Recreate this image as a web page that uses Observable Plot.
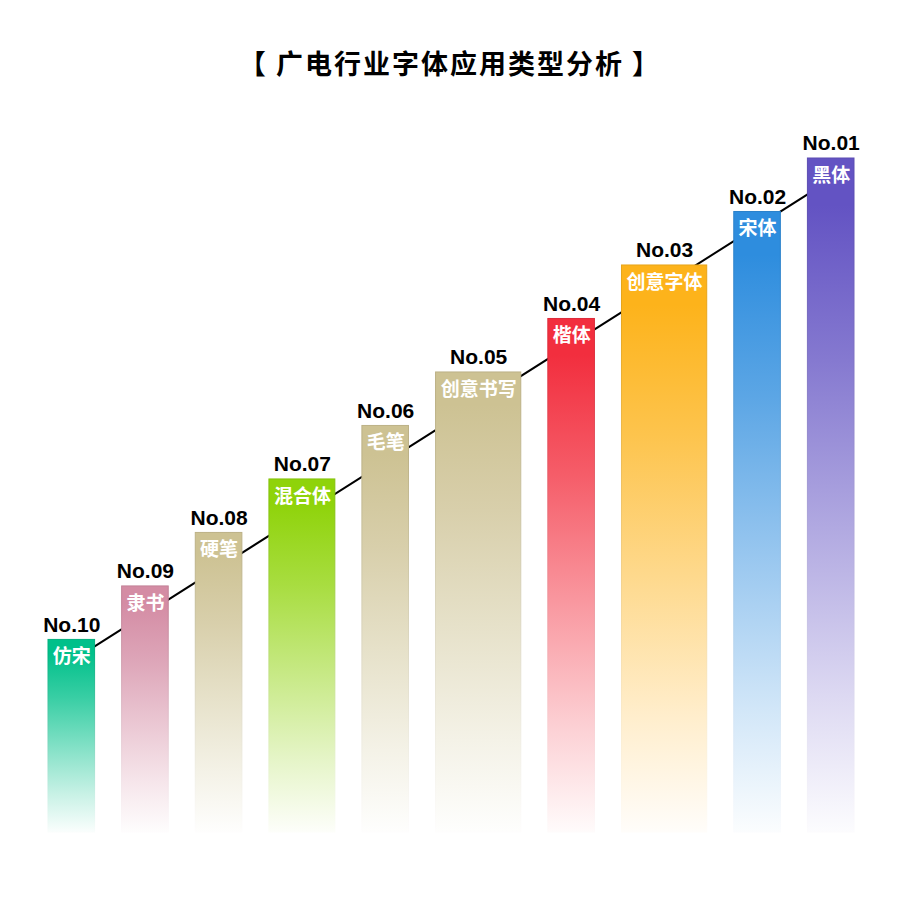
<!DOCTYPE html>
<html>
<head>
<meta charset="utf-8">
<script src="https://cdn.jsdelivr.net/npm/d3@7"></script>
<script src="https://cdn.jsdelivr.net/npm/@observablehq/plot@0.6"></script>
<style>
  html, body { margin: 0; padding: 0; background: #fff; }
  #title {
    box-sizing: border-box; height: 100px; padding-top: 49px;
    text-align: center; font-family: "Noto Sans CJK SC", sans-serif;
    font-weight: 700; font-size: 27px; line-height: 27px; letter-spacing: 2px; color: #000;
  }
  #chart { width: 900px; height: 800px; }
</style>
</head>
<body>
<div id="title">【 广电行业字体应用类型分析 】</div>
<div id="chart"></div>
<script>
// ---- data (left to right) ----
const ranks  = ["No.10", "No.09", "No.08", "No.07", "No.06", "No.05", "No.04", "No.03", "No.02", "No.01"];
const names  = ["仿宋", "隶书", "硬笔", "混合体", "毛笔", "创意书写", "楷体", "创意字体", "宋体", "黑体"];
const values = [36, 46, 56, 66, 76, 86, 96, 106, 116, 126];
const colors = ["#00C08A", "#D48CA4", "#CDC293", "#8FD30A", "#CDC293", "#CDC293", "#F22E3E", "#FDB31B", "#2E8DDE", "#6353C3"];

// bar width follows the length of its label
const charW = 19.5, pad = 8, gap = 27.3;
let cursor = 0;
const data = names.map((name, i) => {
  const w = name.length * charW + pad;
  const d = {rank: ranks[i], name, value: values[i], color: colors[i], x1: cursor, x2: cursor + w,
             grad: `url(#bargrad${i})`, sgrad: `url(#bargradS${i})`};
  d.xc = (d.x1 + d.x2) / 2;
  cursor += w + gap;
  return d;
});
const total = cursor - gap;
const lineData = [data[0], data[data.length - 1]];

const chart = Plot.plot({
  width: 900,
  height: 800,
  marginLeft: 48,
  marginRight: 46,
  marginTop: 58,
  marginBottom: 68,
  x: {domain: [0, total], axis: null},
  y: {domain: [0, 126], axis: null},
  color: {type: "identity"},
  style: {background: "#fff"},
  marks: [
    Plot.line(lineData, {x: "xc", y: d => d.value - 3.9, stroke: "#000", strokeWidth: 2}),
    Plot.rectY(data, {x1: "x1", x2: "x2", y1: 0, y2: "value", fill: "grad", stroke: "sgrad", strokeWidth: 1}),
    Plot.text(data, {x: "xc", y: "value", text: "rank", dy: -15, fill: "#000", fontSize: 21, fontWeight: "bold", fontFamily: "Liberation Sans, Arial, sans-serif"}),
    Plot.text(data, {x: "xc", y: "value", text: "name", dy: 17, fill: "#fff", fontSize: 19, fontWeight: "bold", fontFamily: "Noto Sans CJK SC, sans-serif"})
  ]
});

// vertical gradients: solid at the top, fading towards white at the base
const svg = d3.select(chart);
const defs = svg.insert("defs", ":first-child");
const stops = [[0, 1], [0.07, 1], [0.3, 0.78], [0.55, 0.5], [0.8, 0.22], [1, 0.02]];
data.forEach((d, i) => {
  const c = d3.color(d.color);
  const dark = c.darker(0.25);
  [[`bargrad${i}`, c], [`bargradS${i}`, dark]].forEach(([id, col]) => {
    const g = defs.append("linearGradient").attr("id", id)
      .attr("x1", 0).attr("y1", 0).attr("x2", 0).attr("y2", 1);
    stops.forEach(([o, a]) => {
      g.append("stop").attr("offset", o).attr("stop-color", d3.interpolateRgb("#ffffff", col)(a));
    });
  });
});
document.getElementById("chart").appendChild(chart);
</script>
</body>
</html>
